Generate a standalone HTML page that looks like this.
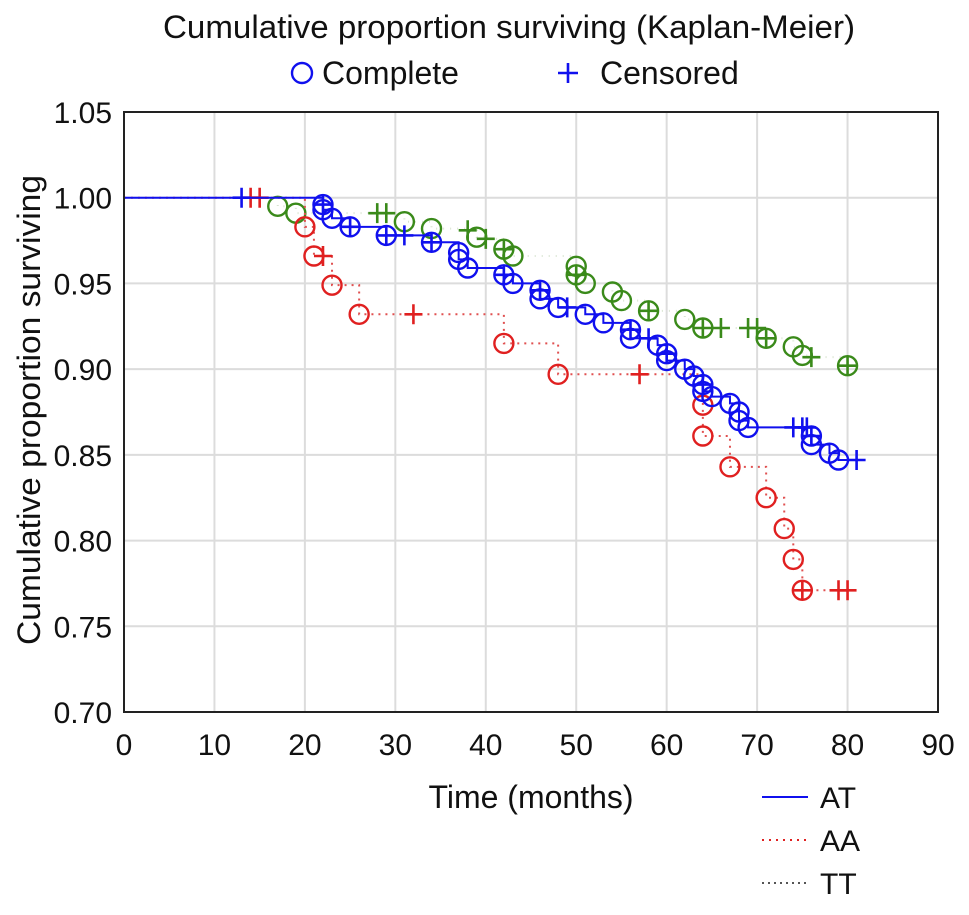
<!DOCTYPE html>
<html><head><meta charset="utf-8"><style>
body{margin:0;background:#fff;}
svg text{font-family:"Liberation Sans",sans-serif;fill:#111;}
</style></head><body>
<svg id="chart" width="969" height="910" xmlns="http://www.w3.org/2000/svg">
<text x="509" y="38" font-size="32" text-anchor="middle" textLength="692" lengthAdjust="spacingAndGlyphs">Cumulative proportion surviving (Kaplan-Meier)</text>
<g>
<circle cx="302" cy="73" r="10" fill="none" stroke="#1010ee" stroke-width="2.4"/>
<text x="322" y="84" font-size="32">Complete</text>
<path d="M558 73h20M568 63v20" stroke="#1010ee" stroke-width="2.6"/>
<text x="600" y="84" font-size="32">Censored</text>
</g>
<g id="grid"></g>
<g id="ticks"></g>
<g id="series"></g>
<rect x="124" y="112" width="814" height="600" fill="none" stroke="#222" stroke-width="2"/>
<text transform="translate(40,410) rotate(-90)" font-size="32" text-anchor="middle" textLength="470" lengthAdjust="spacingAndGlyphs">Cumulative proportion surviving</text>
<text x="531" y="808" font-size="32" text-anchor="middle">Time (months)</text>
<g>
<line x1="762" y1="797" x2="808" y2="797" stroke="#1010ee" stroke-width="2"/>
<text x="820" y="808" font-size="30">AT</text>
<line x1="762" y1="840" x2="808" y2="840" stroke="#e02020" stroke-width="2" stroke-dasharray="2,5"/>
<text x="820" y="851" font-size="30">AA</text>
<line x1="762" y1="883" x2="808" y2="883" stroke="#555" stroke-width="2" stroke-dasharray="2,4"/>
<text x="820" y="894" font-size="30">TT</text>
</g>
</svg>
<script>
const xTicks=[0,10,20,30,40,50,60,70,80,90];
const yTicks=[0.70,0.75,0.80,0.85,0.90,0.95,1.00,1.05];
const atEventT=[22,22,23,25,29,34,37,37,38,42,43,46,46,48,51,53,56,56,59,60,60,62,63,64,64,65,67,68,68,69,76,76,78,79];
const atEventS=[0.996,0.993,0.988,0.983,0.978,0.974,0.968,0.964,0.959,0.955,0.950,0.946,0.941,0.936,0.932,0.927,0.923,0.918,0.914,0.909,0.905,0.900,0.896,0.891,0.887,0.884,0.880,0.875,0.870,0.866,0.861,0.856,0.851,0.847];
const atCensT=[13,22,25,29,31,34,42,46,49,56,58,60,64,74,75,75.5,76,81];
const atCensS=[1.0,0.996,0.983,0.978,0.978,0.974,0.955,0.946,0.936,0.923,0.918,0.909,0.891,0.866,0.866,0.866,0.861,0.847];
const aaEventT=[20,21,23,26,42,48,64,64,67,71,73,74,75];
const aaEventS=[0.983,0.966,0.949,0.932,0.915,0.897,0.879,0.861,0.843,0.825,0.807,0.789,0.771];
const aaCensT=[14,15,22,32,57,75,79,80];
const aaCensS=[1.0,1.0,0.966,0.932,0.897,0.771,0.771,0.771];
const ttEventT=[17,19,31,34,39,42,43,50,50,51,54,55,58,62,64,71,74,75,80];
const ttEventS=[0.995,0.991,0.986,0.982,0.977,0.970,0.966,0.960,0.955,0.950,0.945,0.940,0.934,0.929,0.924,0.918,0.913,0.908,0.902];
const ttCensT=[28,29,38,40,42,50,58,64,66,69,70,71,76,80];
const ttCensS=[0.991,0.991,0.981,0.976,0.970,0.955,0.934,0.924,0.924,0.924,0.924,0.918,0.907,0.902];

const NS="http://www.w3.org/2000/svg";
const X=t=>124+t*(814/90);
const Y=s=>712-(s-0.70)*(600/0.35);
function mk(tag,attrs,parent){const e=document.createElementNS(NS,tag);for(const k in attrs)e.setAttribute(k,attrs[k]);parent.appendChild(e);return e;}
const grid=document.getElementById('grid'),ticks=document.getElementById('ticks'),ser=document.getElementById('series');
xTicks.forEach(v=>{
  const l=mk('line',{x1:X(v),x2:X(v),y1:112,y2:712,stroke:'#dcdcdc','stroke-width':2},grid);
  
  
  const t=mk('text',{x:X(v),y:755,'font-size':30,'text-anchor':'middle'},ticks);t.textContent=v;
  
  
});
yTicks.forEach(v=>{
  const l=mk('line',{x1:124,x2:938,y1:Y(v),y2:Y(v),stroke:'#dcdcdc','stroke-width':2},grid);
  
  
  const t=mk('text',{x:112,y:Y(v)+11,'font-size':30,'text-anchor':'end'},ticks);t.textContent=v.toFixed(2);
  
  
});
function drawSeries(name,eT,eS,cT,cS,color,lineColor,dash){
  const pts=[];eT.forEach((t,i)=>pts.push([t,eS[i]]));cT.forEach((t,i)=>pts.push([t,cS[i]]));
  pts.sort((a,b)=>a[0]-b[0]||b[1]-a[1]);
  let d='M'+X(0)+' '+Y(1);let cur=1;
  pts.forEach(p=>{d+=' L'+X(p[0])+' '+Y(cur);if(p[1]!==cur){d+=' L'+X(p[0])+' '+Y(p[1]);cur=p[1];}});
  const path=mk('path',{d:d,fill:'none',stroke:lineColor,'stroke-width':2,'stroke-dasharray':dash},ser);
  
  
  eT.forEach((t,i)=>{
    const c=mk('circle',{cx:X(t),cy:Y(eS[i]),r:9.5,fill:'none',stroke:color,'stroke-width':2.4},ser);
    
    
  });
  cT.forEach((t,i)=>{
    const x=X(t),y=Y(cS[i]);
    const c=mk('path',{d:`M${x-9} ${y}h18M${x} ${y-10}v20`,stroke:color,'stroke-width':2.6},ser);
    
    
  });
}
drawSeries('tt',ttEventT,ttEventS,ttCensT,ttCensS,'#3a8a1a','#d8e4d0','1,6');
drawSeries('aa',aaEventT,aaEventS,aaCensT,aaCensS,'#e02020','#e05050','2,5');
drawSeries('at',atEventT,atEventS,atCensT,atCensS,'#1010ee','#1010ee','');
</script>
</body></html>
